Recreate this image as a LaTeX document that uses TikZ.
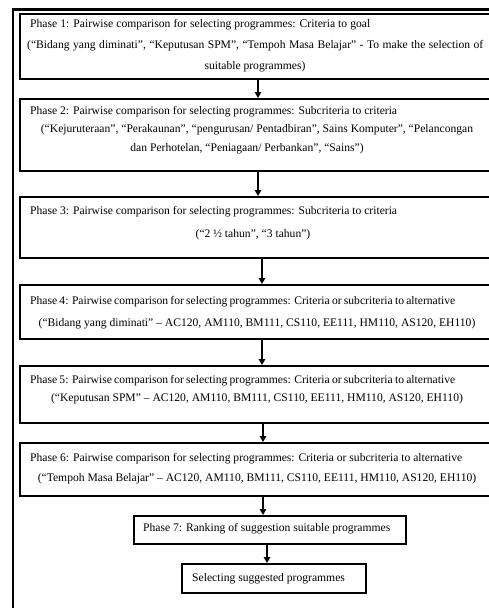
\documentclass[tikz,border=0pt]{standalone}
\usepackage{fontspec}
\setmainfont{Liberation Serif}
\usetikzlibrary{arrows.meta}

% a line set to an exact width by stretching or shrinking its word spaces
\newcommand{\fitline}[2]{\hbox to #1{\spaceskip=0.25em plus 1fil minus 0.2em\relax #2}}

\begin{document}
\begin{tikzpicture}[x=1pt,y=-1pt,
  frame/.style={draw, line width=2.6pt, rectangle, inner sep=0pt, anchor=north west},
  box/.style={draw, line width=1.8pt, rectangle, inner sep=0pt, anchor=north west},
  txt/.style={inner sep=0pt, font=\fontsize{11.6}{14}\selectfont},
  first/.style={txt, anchor=base west},
  mid/.style={txt, anchor=base},
  arr/.style={line width=1.8pt, -{Triangle[width=6.5pt,length=6pt]}}]

\useasboundingbox (0,0) rectangle (489,608);
\clip (0,0) rectangle (489,608);

% outer frame, running past the right and bottom edges
\node[frame, minimum width=520pt, minimum height=640pt] (outer) at (11.5,8) {};

% phase boxes
\node[box, minimum width=500pt, minimum height=65pt] (b1) at (19,13) {};
\node[box, minimum width=500pt, minimum height=72pt] (b2) at (19,98) {};
\node[box, minimum width=500pt, minimum height=61pt] (b3) at (19,196) {};
\node[box, minimum width=500pt, minimum height=54pt] (b4) at (19,284) {};
\node[box, minimum width=500pt, minimum height=57pt] (b5) at (19,365) {};
\node[box, minimum width=500pt, minimum height=53pt] (b6) at (19,442) {};
\node[box, minimum width=272pt, minimum height=28pt] (b7) at (133,515) {};
\node[box, minimum width=184pt, minimum height=29pt] (b8) at (181,563) {};

% texts
\node[first] (t1a) at (30,27) {\fitline{340pt}{Phase 1: Pairwise comparison for selecting programmes: Criteria to goal}};
\node[first] (t1b) at (27,48) {\fitline{456pt}{(“Bidang yang diminati”, “Keputusan SPM”, “Tempoh Masa Belajar” - To make the selection of}};
\node[mid] (t1c) at (255,69) {suitable programmes)};

\node[first] (t2a) at (30,114) {Phase 2: Pairwise comparison for selecting programmes: Subcriteria to criteria};
\node[mid] (t2b) at (257,132) {(“Kejuruteraan”, “Perakaunan”, “pengurusan/ Pentadbiran”, Sains Komputer”, “Pelancongan};
\node[mid] (t2c) at (247,151) {dan Perhotelan, “Peniagaan/ Perbankan”, “Sains”)};

\node[first] (t3a) at (30,214) {Phase 3: Pairwise comparison for selecting programmes: Subcriteria to criteria};
\node[mid] (t3b) at (253,237) {(“2 ½ tahun”, “3 tahun”)};

\node[first] (t4a) at (30,304) {\fitline{425pt}{Phase 4: Pairwise comparison for selecting programmes: Criteria or subcriteria to alternative}};
\node[mid] (t4b) at (257,326) {(“Bidang yang diminati” – AC120, AM110, BM111, CS110, EE111, HM110, AS120, EH110)};

\node[first] (t5a) at (30,383) {\fitline{425pt}{Phase 5: Pairwise comparison for selecting programmes: Criteria or subcriteria to alternative}};
\node[mid] (t5b) at (257,401) {(“Keputusan SPM” – AC120, AM110, BM111, CS110, EE111, HM110, AS120, EH110)};

\node[first] (t6a) at (30,461) {Phase 6: Pairwise comparison for selecting programmes: Criteria or subcriteria to alternative};
\node[mid] (t6b) at (257,481) {(“Tempoh Masa Belajar” – AC120, AM110, BM111, CS110, EE111, HM110, AS120, EH110)};

\node[first] (t7) at (143,531) {Phase 7: Ranking of suggestion suitable programmes};
\node[first] (t8) at (192,581) {Selecting suggested programmes};

% connector columns
\coordinate (c1) at (258,0);
\coordinate (c3) at (262,0);
\coordinate (c5) at (263,0);
\coordinate (c7) at (267,0);

\draw[arr] (b1.south -| c1) -- (b2.north -| c1);
\draw[arr] (b2.south -| c1) -- (b3.north -| c1);
\draw[arr] (b3.south -| c3) -- (b4.north -| c3);
\draw[arr] (b4.south -| c3) -- (b5.north -| c3);
\draw[arr] (b5.south -| c5) -- (b6.north -| c5);
\draw[arr] (b6.south -| c5) -- (b7.north -| c5);
\draw[arr] (b7.south -| c7) -- (b8.north -| c7);
\end{tikzpicture}
\end{document}
